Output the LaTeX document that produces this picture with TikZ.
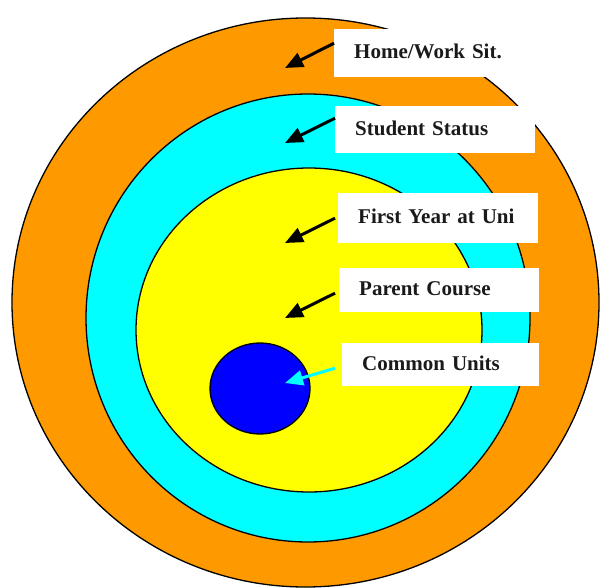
\documentclass[tikz,border=0pt]{standalone}
\usepackage{fontspec}
\setmainfont{Liberation Serif}
\usetikzlibrary{arrows.meta,shapes.geometric}
\definecolor{orng}{RGB}{255,153,0}
\definecolor{cyn}{RGB}{0,255,255}
\definecolor{ylw}{RGB}{255,255,0}
\definecolor{blu}{RGB}{0,0,255}
\definecolor{txt}{RGB}{26,26,26}
\begin{document}
\begin{tikzpicture}[x=1pt,y=-1pt,
  ring/.style={ellipse,draw=black,line width=1.3pt,inner sep=0pt},
  lbl/.style={fill=white,anchor=north west,inner xsep=20pt,inner ysep=0pt,align=left,
    font=\fontsize{21}{25}\selectfont\bfseries,text=txt,text height=14pt,text depth=3pt},
  pointer/.style={line width=3pt,-{Triangle[length=18pt,width=15pt]}}]
\useasboundingbox (0,0) rectangle (600,588);
% rings
\node[ring,fill=orng,minimum width=587pt,minimum height=569pt] (home) at (305.5,302.5) {};
\node[ring,fill=cyn,minimum width=444pt,minimum height=448pt] (student) at (308,318) {};
\node[ring,fill=ylw,minimum width=346pt,minimum height=324pt] (first) at (309,330) {};
\node[ring,fill=blu,minimum width=100pt,minimum height=91pt] (common) at (260,388.5) {};
% labels
\node[lbl,text width=156pt,minimum height=48pt] (hw) at (334,29) {Home/Work Sit.};
\node[lbl,text width=160pt,minimum height=47pt] (ss) at (335,106) {Student Status};
\node[lbl,text width=160pt,minimum height=50pt] (fy) at (338,193) {First Year at Uni};
\node[lbl,text width=160pt,minimum height=44pt] (pc) at (339,268) {Parent Course};
\node[lbl,text width=157pt,minimum height=43pt] (cu) at (342,343) {Common Units};
% arrow tips
\coordinate (thw) at (285,68);
\coordinate (tss) at (285,143);
\coordinate (tfy) at (285,243);
\coordinate (tpc) at (285,318);
\coordinate (tcu) at (285,383);
% arrows
\draw[pointer] ([yshift=10pt]hw.west) -- (thw);
\draw[pointer] ([yshift=11.5pt]ss.west) -- (tss);
\draw[pointer] ([xshift=-3pt]fy.west) -- (tfy);
\draw[pointer] ([xshift=-4pt,yshift=-3pt]pc.west) -- (tpc);
\draw[pointer,draw=cyn,fill=cyn] ([xshift=-7pt,yshift=-3.5pt]cu.west) -- (tcu);
\end{tikzpicture}
\end{document}
